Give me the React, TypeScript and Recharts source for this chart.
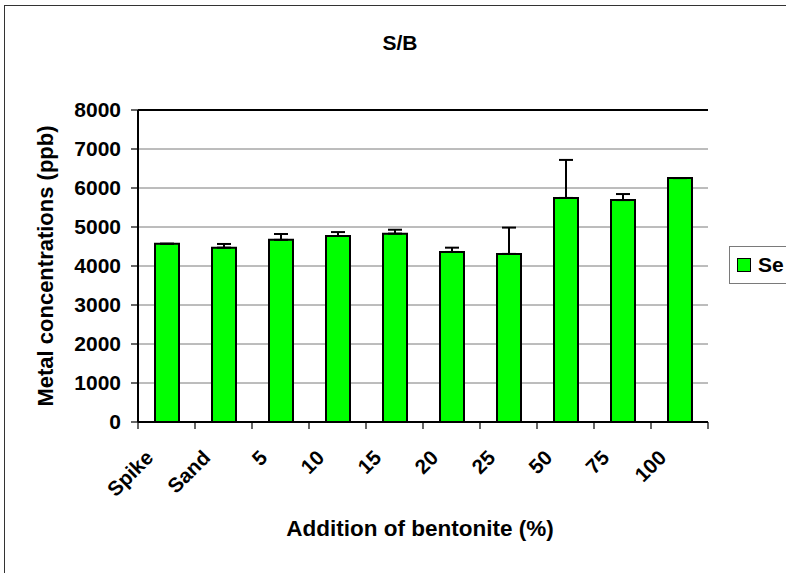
import React from 'react';
import { BarChart, Bar, XAxis, YAxis, CartesianGrid, ErrorBar, ReferenceLine, Legend, Label, Customized } from 'recharts';

const categories = ['Spike', 'Sand', '5', '10', '15', '20', '25', '50', '75', '100'];
const seValues = [4570, 4470, 4670, 4770, 4830, 4360, 4310, 5745, 5690, 6255];
const seErrors = [0, 95, 150, 100, 100, 110, 675, 975, 155, 0];
const yTicks = [0, 1000, 2000, 3000, 4000, 5000, 6000, 7000, 8000];

const data = categories.map((c, i) => ({ cat: c, Se: seValues[i], err: [0, seErrors[i]] }));

const FONT = '"Liberation Sans", Arial, sans-serif';

const XTick = (props: any) => {
  const { x, y, payload, index, visibleTicksCount } = props;
  const half = payload && typeof payload.offset === 'number' && payload.offset > 0 ? payload.offset : 28.5;
  const tx = x - 12;
  const ty = y + 37;
  const isLast = index === (visibleTicksCount ?? categories.length) - 1;
  return (
    <g>
      <line x1={x - half} y1={y} x2={x - half} y2={y + 7} stroke="#000" strokeWidth={1.2} />
      {isLast && <line x1={x + half} y1={y} x2={x + half} y2={y + 7} stroke="#000" strokeWidth={1.2} />}
      <text x={tx} y={ty} transform={`rotate(-45, ${tx}, ${ty})`} textAnchor="end" fontFamily={FONT} fontWeight="bold" fontSize={20.5} fill="#000">
        {payload.value}
      </text>
    </g>
  );
};

const LegendBox = (props: any) => {
  const items = props.payload || [];
  return (
    <div style={{ border: '1.5px solid #7a7a7a', width: 80, height: 38, boxSizing: 'border-box', display: 'flex', alignItems: 'center', paddingLeft: 7, background: '#fff' }}>
      {items.map((it: any) => (
        <div key={it.value} style={{ display: 'flex', alignItems: 'center' }}>
          <span style={{ display: 'inline-block', width: 14, height: 14, background: '#00ff00', border: '1.5px solid #000', boxSizing: 'border-box' }} />
          <span style={{ marginLeft: 7, fontFamily: FONT, fontWeight: 'bold', fontSize: 21, color: '#000' }}>{it.value}</span>
        </div>
      ))}
    </div>
  );
};

const Title = () => (
  <text x={400} y={50} textAnchor="middle" fontFamily={FONT} fontWeight="bold" fontSize={21} fill="#000">S/B</text>
);

export default function App() {
  return (
    <div style={{ position: 'absolute', left: 0, top: 0, width: 786, height: 573, overflow: 'hidden', background: '#fff' }}>
      <div style={{ position: 'absolute', left: 4, top: 5, width: 800, height: 600, borderLeft: '1.5px solid #333', borderTop: '1.5px solid #333' }} />
      <BarChart
        width={786}
        height={573}
        data={data}
        margin={{ top: 110, right: 78, bottom: 121, left: 78 }}
        barSize={24}
        style={{ position: 'absolute', left: 0, top: 0 }}
      >
        <CartesianGrid vertical={false} stroke="#7a7a7a" strokeWidth={1} />
        <XAxis
          dataKey="cat"
          height={30}
          interval={0}
          tickLine={false}
          tickSize={0}
          tickMargin={0}
          axisLine={{ stroke: '#000', strokeWidth: 2 }}
          tick={<XTick />}
        >
          <Label
            content={() => (
              <text x={420} y={536} textAnchor="middle" fontFamily={FONT} fontWeight="bold" fontSize={22.5} fill="#000">Addition of bentonite (%)</text>
            )}
          />
        </XAxis>
        <YAxis
          width={60}
          domain={[0, 8000]}
          ticks={yTicks}
          interval={0}
          tickSize={7}
          tickMargin={10}
          tickLine={{ stroke: '#000', strokeWidth: 1.2 }}
          axisLine={{ stroke: '#000', strokeWidth: 2 }}
          tick={{ fontFamily: FONT, fontWeight: 'bold', fontSize: 21, fill: '#000' }}
        >
          <Label
            content={() => (
              <text x={53} y={266} transform="rotate(-90, 53, 266)" textAnchor="middle" fontFamily={FONT} fontWeight="bold" fontSize={22} fill="#000">Metal concentrations (ppb)</text>
            )}
          />
        </YAxis>
        <YAxis yAxisId="right" orientation="right" width={0} domain={[0, 8000]} tick={false} tickLine={false} axisLine={{ stroke: '#000', strokeWidth: 2 }} />
        <ReferenceLine y={8000} stroke="#000" strokeWidth={2} />
        <Legend
          layout="vertical"
          align="center"
          verticalAlign="middle"
          content={<LegendBox />}
          wrapperStyle={{ position: 'absolute', left: 729, top: 246, width: 80 }}
        />
        <Bar dataKey="Se" fill="#00ff00" stroke="#000" strokeWidth={2} isAnimationActive={false}>
          <ErrorBar dataKey="err" direction="y" width={7} stroke="#000" strokeWidth={2} />
        </Bar>
        <Customized component={Title} />
      </BarChart>
    </div>
  );
}
